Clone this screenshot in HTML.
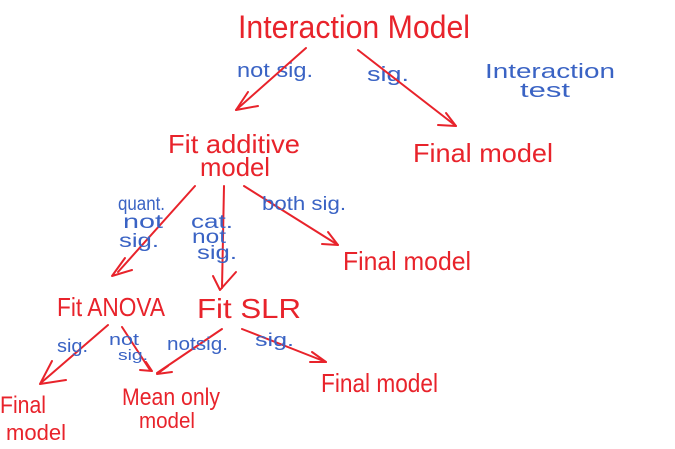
<!DOCTYPE html>
<html><head><meta charset="utf-8"><style>
html,body{margin:0;padding:0;background:#fff;width:675px;height:449px;overflow:hidden}
svg{display:block}
.r{fill:#e8232b;font-family:"Liberation Sans",sans-serif}
.b{fill:#3a63c4;font-family:"Liberation Sans",sans-serif}
line,polyline{stroke:#e8232b;stroke-width:2;fill:none;stroke-linecap:round;stroke-linejoin:round}
</style></head><body>
<svg width="675" height="449" viewBox="0 0 675 449" xmlns="http://www.w3.org/2000/svg">
<!-- top -->
<text class="r" x="238" y="38" font-size="32" textLength="232" lengthAdjust="spacingAndGlyphs">Interaction Model</text>
<text class="b" x="237" y="77" font-size="20" textLength="76" lengthAdjust="spacingAndGlyphs">not sig.</text>
<text class="b" x="367" y="81" font-size="20" textLength="42" lengthAdjust="spacingAndGlyphs">sig.</text>
<text class="b" x="485" y="78" font-size="20" textLength="130" lengthAdjust="spacingAndGlyphs">Interaction</text>
<text class="b" x="520" y="97" font-size="20" textLength="50" lengthAdjust="spacingAndGlyphs">test</text>
<line x1="306" y1="48" x2="236" y2="110"/><polyline points="248,92 236,110 258,106"/>
<line x1="358" y1="50" x2="456" y2="126"/><polyline points="446,113 456,126 438,125"/>
<text class="r" x="168" y="153" font-size="26" textLength="132" lengthAdjust="spacingAndGlyphs">Fit additive</text>
<text class="r" x="200" y="176" font-size="26" textLength="70" lengthAdjust="spacingAndGlyphs">model</text>
<text class="r" x="413" y="162" font-size="26" textLength="140" lengthAdjust="spacingAndGlyphs">Final model</text>
<!-- middle -->
<line x1="195" y1="186" x2="118" y2="272"/><polyline points="125,258 112,276 132,270"/>
<line x1="224" y1="186" x2="222" y2="288"/><polyline points="213,276 220,290 236,272"/>
<line x1="244" y1="186" x2="338" y2="245"/><polyline points="328,232 338,245 322,244"/>
<text class="b" x="118" y="210" font-size="19" textLength="47" lengthAdjust="spacingAndGlyphs">quant.</text>
<text class="b" x="123" y="228" font-size="19" textLength="40" lengthAdjust="spacingAndGlyphs">not</text>
<text class="b" x="119" y="247" font-size="19" textLength="40" lengthAdjust="spacingAndGlyphs">sig.</text>
<text class="b" x="191" y="228" font-size="19" textLength="42" lengthAdjust="spacingAndGlyphs">cat.</text>
<text class="b" x="192" y="243" font-size="19" textLength="34" lengthAdjust="spacingAndGlyphs">not</text>
<text class="b" x="197" y="259" font-size="19" textLength="40" lengthAdjust="spacingAndGlyphs">sig.</text>
<text class="b" x="262" y="210" font-size="19" textLength="84" lengthAdjust="spacingAndGlyphs">both sig.</text>
<text class="r" x="343" y="270" font-size="26" textLength="128" lengthAdjust="spacingAndGlyphs">Final model</text>
<text class="r" x="57" y="316" font-size="26" textLength="108" lengthAdjust="spacingAndGlyphs">Fit ANOVA</text>
<text class="r" x="197" y="318" font-size="28" textLength="104" lengthAdjust="spacingAndGlyphs">Fit SLR</text>
<!-- bottom -->
<line x1="108" y1="325" x2="42" y2="382"/><polyline points="52,361 40,384 66,380"/>
<line x1="122" y1="327" x2="150" y2="370"/><polyline points="140,370 152,371 146,362"/>
<line x1="222" y1="329" x2="157" y2="373"/><polyline points="168,366 157,374 172,372"/>
<line x1="242" y1="329" x2="326" y2="362"/><polyline points="312,352 326,362 310,362"/>
<text class="b" x="57" y="352" font-size="18" textLength="31" lengthAdjust="spacingAndGlyphs">sig.</text>
<text class="b" x="109" y="345" font-size="17" textLength="30" lengthAdjust="spacingAndGlyphs">not</text>
<text class="b" x="118" y="360" font-size="15" textLength="30" lengthAdjust="spacingAndGlyphs">sig.</text>
<text class="b" x="167" y="350" font-size="18" textLength="61" lengthAdjust="spacingAndGlyphs">notsig.</text>
<text class="b" x="255" y="346" font-size="18" textLength="39" lengthAdjust="spacingAndGlyphs">sig.</text>
<text class="r" x="321" y="392" font-size="26" textLength="117" lengthAdjust="spacingAndGlyphs">Final model</text>
<text class="r" x="122" y="405" font-size="24" textLength="98" lengthAdjust="spacingAndGlyphs">Mean only</text>
<text class="r" x="139" y="428" font-size="22" textLength="56" lengthAdjust="spacingAndGlyphs">model</text>
<text class="r" x="0" y="413" font-size="24" textLength="46" lengthAdjust="spacingAndGlyphs">Final</text>
<text class="r" x="6" y="440" font-size="22" textLength="60" lengthAdjust="spacingAndGlyphs">model</text>
</svg>
</body></html>
